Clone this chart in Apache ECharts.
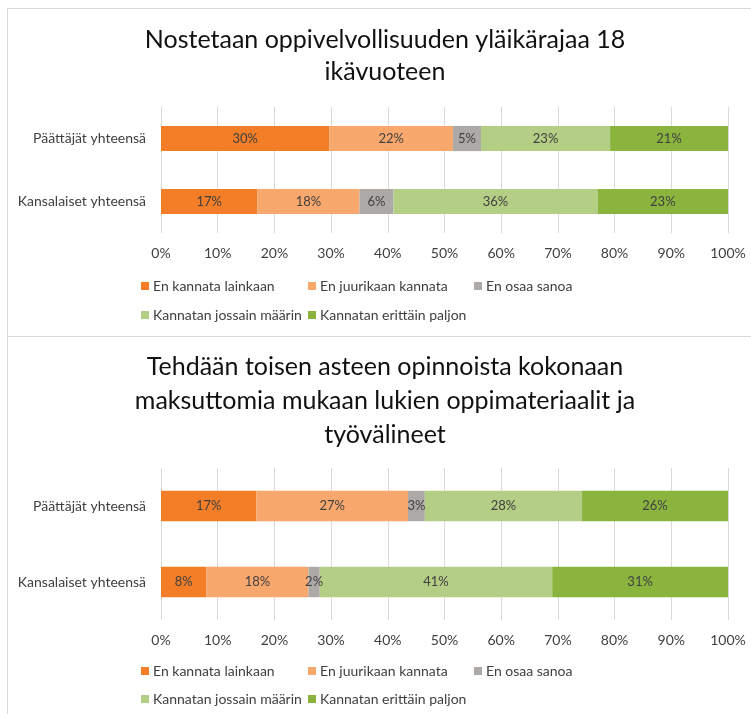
<!DOCTYPE html>
<html>
<head>
<meta charset="utf-8">
<script src="https://cdn.jsdelivr.net/npm/echarts@6/dist/echarts.min.js"></script>
<style>
html,body{margin:0;padding:0;background:#fff;overflow:hidden;}
#main{width:751px;height:714px;}
</style>
</head>
<body>
<div id="main"></div>
<script>
// ---- data ----
const categories = ['Päättäjät yhteensä', 'Kansalaiset yhteensä'];
const seriesNames = ['En kannata lainkaan', 'En juurikaan kannata', 'En osaa sanoa', 'Kannatan jossain määrin', 'Kannatan erittäin paljon'];
const title1 = 'Nostetaan oppivelvollisuuden yläikärajaa 18\nikävuoteen';
const title2 = 'Tehdään toisen asteen opinnoista kokonaan\nmaksuttomia mukaan lukien oppimateriaalit ja\ntyövälineet';
// chart 1 (percent, per category)
const q1NotAtAll = [30, 17];
const q1Hardly   = [22, 18];
const q1DontKnow = [5, 6];
const q1Somewhat = [23, 36];
const q1Strongly = [21, 23];
// chart 2
const q2NotAtAll = [17, 8];
const q2Hardly   = [27, 18];
const q2DontKnow = [3, 2];
const q2Somewhat = [28, 41];
const q2Strongly = [26, 31];
const xTicks = [0, 10, 20, 30, 40, 50, 60, 70, 80, 90, 100];

// ---- styles ----
const colors = ['#F47E27', '#F8A86D', '#ADA9A7', '#B4CE85', '#8BB43F'];
const FONT = 'Lato, "Liberation Sans Narrow", "Noto Sans", sans-serif';
const TXT = '#404040';

const chart = echarts.init(document.getElementById('main'));

const charts = [
  [q1NotAtAll, q1Hardly, q1DontKnow, q1Somewhat, q1Strongly],
  [q2NotAtAll, q2Hardly, q2DontKnow, q2Somewhat, q2Strongly]
];

const series = [];
charts.forEach((cols, k) => {
  const totals = categories.map((c, i) => cols.reduce((s, col) => s + col[i], 0));
  cols.forEach((col, j) => {
    series.push({
      name: seriesNames[j],
      type: 'bar',
      stack: 'q' + k,
      xAxisIndex: k,
      yAxisIndex: k,
      barCategoryGap: '60%',
      itemStyle: { color: colors[j] },
      emphasis: { disabled: true },
      label: {
        show: true,
        position: 'inside',
        fontFamily: FONT,
        fontSize: 13,
        color: TXT,
        formatter: p => col[p.dataIndex] + '%'
      },
      data: col.map((v, i) => v / totals[i] * 100)
    });
  });
});

const xAxisBase = {
  type: 'value', min: 0, max: 100, interval: 10,
  axisLine: { show: false }, axisTick: { show: false },
  splitLine: { lineStyle: { color: '#D9D9D9', width: 1 } },
  axisLabel: { fontFamily: FONT, fontSize: 14, color: TXT, margin: 13,
    formatter: v => xTicks.includes(v) ? v + '%' : '' }
};
const yAxisBase = {
  type: 'category', data: categories, inverse: true,
  axisLine: { show: false }, axisTick: { show: false },
  axisLabel: { fontFamily: FONT, fontSize: 14, color: TXT, margin: 15 }
};

function legendsFor(rowTops, positions) {
  return positions.map((p, i) => ({
    data: [seriesNames[i]],
    left: p[0], top: rowTops[p[1]],
    icon: 'rect', itemWidth: 8, itemHeight: 8, itemGap: 0, padding: 0,
    selectedMode: false,
    textStyle: { fontFamily: FONT, fontSize: 14, color: TXT, padding: [0, 0, 0, -1] }
  }));
}
const legendPos = [[141, 0], [308, 0], [474, 0], [141, 1], [308, 1]];

chart.setOption({
  animation: false,
  backgroundColor: '#fff',
  title: [
    { text: title1, left: 385, top: 24, textAlign: 'center', padding: 0,
      textStyle: { fontFamily: FONT, fontSize: 25, fontWeight: 'normal', color: '#111', lineHeight: 32 } },
    { text: title2, left: 385, top: 350, textAlign: 'center', padding: 0,
      textStyle: { fontFamily: FONT, fontSize: 25, fontWeight: 'normal', color: '#111', lineHeight: 34 } }
  ],
  legend: legendsFor([279, 308], legendPos).concat(legendsFor([664, 692], legendPos)),
  grid: [
    { left: 161, right: 23, top: 107, height: 126 },
    { left: 161, right: 23, top: 468, height: 152 }
  ],
  xAxis: [Object.assign({ gridIndex: 0 }, xAxisBase), Object.assign({ gridIndex: 1 }, xAxisBase)],
  yAxis: [Object.assign({ gridIndex: 0 }, yAxisBase), Object.assign({ gridIndex: 1 }, yAxisBase)],
  series: series,
  graphic: [
    { type: 'line', shape: { x1: 7, y1: 8.5, x2: 751, y2: 8.5 }, style: { stroke: '#D9D9D9', lineWidth: 1 }, silent: true },
    { type: 'line', shape: { x1: 7.5, y1: 8, x2: 7.5, y2: 714 }, style: { stroke: '#D9D9D9', lineWidth: 1 }, silent: true },
    { type: 'line', shape: { x1: 7, y1: 336.5, x2: 751, y2: 336.5 }, style: { stroke: '#D9D9D9', lineWidth: 1 }, silent: true }
  ]
});
</script>
</body>
</html>
